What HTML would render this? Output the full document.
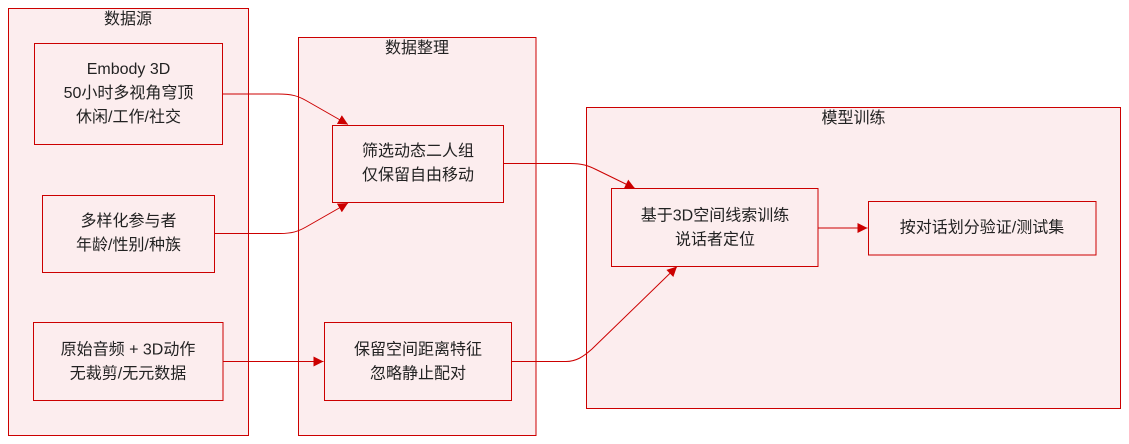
<!DOCTYPE html>
<html>
<head>
<meta charset="utf-8">
<style>
  html, body { margin: 0; padding: 0; background: #ffffff; }
  body { width: 1129px; height: 444px; overflow: hidden; }
  svg { display: block; }
  text { font-family: "Liberation Sans", "Noto Sans CJK SC", sans-serif; font-size: 16px; fill: #222222; }
</style>
</head>
<body>
<svg width="1129" height="444" viewBox="0 0 1129 444" xmlns="http://www.w3.org/2000/svg">
  <defs>
    <marker id="ah" viewBox="0 0 10 10" refX="10" refY="5" markerUnits="userSpaceOnUse" markerWidth="10" markerHeight="10" orient="auto">
      <path d="M0,0 L10,5 L0,10 z" fill="#cc0000"/>
    </marker>
  </defs>

  <!-- clusters -->
  <rect x="8.5" y="8.5" width="240" height="427" fill="#fcedee" stroke="#cc0000" stroke-width="1"/>
  <rect x="298.5" y="37.5" width="237.5" height="398" fill="#fcedee" stroke="#cc0000" stroke-width="1"/>
  <rect x="586.5" y="107.5" width="534" height="301" fill="#fcedee" stroke="#cc0000" stroke-width="1"/>

  <text x="128" y="19.5" text-anchor="middle" dominant-baseline="central">数据源</text>
  <text x="417" y="48.5" text-anchor="middle" dominant-baseline="central">数据整理</text>
  <text x="853.5" y="118.5" text-anchor="middle" dominant-baseline="central">模型训练</text>

  <!-- edges -->
  <g fill="none" stroke="#cc0000" stroke-width="1">
    <path d="M222.5,94 L278,94 C292,94 298,96 306,100.5 L348,124.5" marker-end="url(#ah)"/>
    <path d="M214.5,233.5 L280,233.5 C292,233.5 298,231.5 306,227 L348,203" marker-end="url(#ah)"/>
    <path d="M223,361.5 L323.5,361.5" marker-end="url(#ah)"/>
    <path d="M503.5,163.5 L570,163.5 C582,163.5 588,165.5 596,169.5 L635,188.5" marker-end="url(#ah)"/>
    <path d="M511.5,361.5 L566,361.5 C576,361.5 583,357 592,349 L677,266.5" marker-end="url(#ah)"/>
    <path d="M818,228 L867.5,228" marker-end="url(#ah)"/>
  </g>

  <!-- nodes -->
  <g fill="#fcedee" stroke="#cc0000" stroke-width="1">
    <rect x="34.5" y="43.5" width="188" height="101"/>
    <rect x="42.5" y="195.5" width="172" height="77"/>
    <rect x="33.5" y="322.5" width="189.5" height="78"/>
    <rect x="332.5" y="125.5" width="171" height="77"/>
    <rect x="324.5" y="322.5" width="187" height="78"/>
    <rect x="611.5" y="188.5" width="206.5" height="78"/>
    <rect x="868.5" y="201.5" width="227.5" height="53.5"/>
  </g>

  <g text-anchor="middle" dominant-baseline="central">
    <text x="128.5" y="69.5">Embody 3D</text>
    <text x="128.5" y="93.5">50小时多视角穹顶</text>
    <text x="128.5" y="117.5">休闲/工作/社交</text>

    <text x="128.5" y="221.5">多样化参与者</text>
    <text x="128.5" y="245.5">年龄/性别/种族</text>

    <text x="128" y="350">原始音频 + 3D动作</text>
    <text x="128" y="374">无裁剪/无元数据</text>

    <text x="418" y="151.5">筛选动态二人组</text>
    <text x="418" y="175.5">仅保留自由移动</text>

    <text x="418" y="350">保留空间距离特征</text>
    <text x="418" y="374">忽略静止配对</text>

    <text x="715" y="216">基于3D空间线索训练</text>
    <text x="715" y="240">说话者定位</text>

    <text x="982" y="228">按对话划分验证/测试集</text>
  </g>
</svg>
</body>
</html>
